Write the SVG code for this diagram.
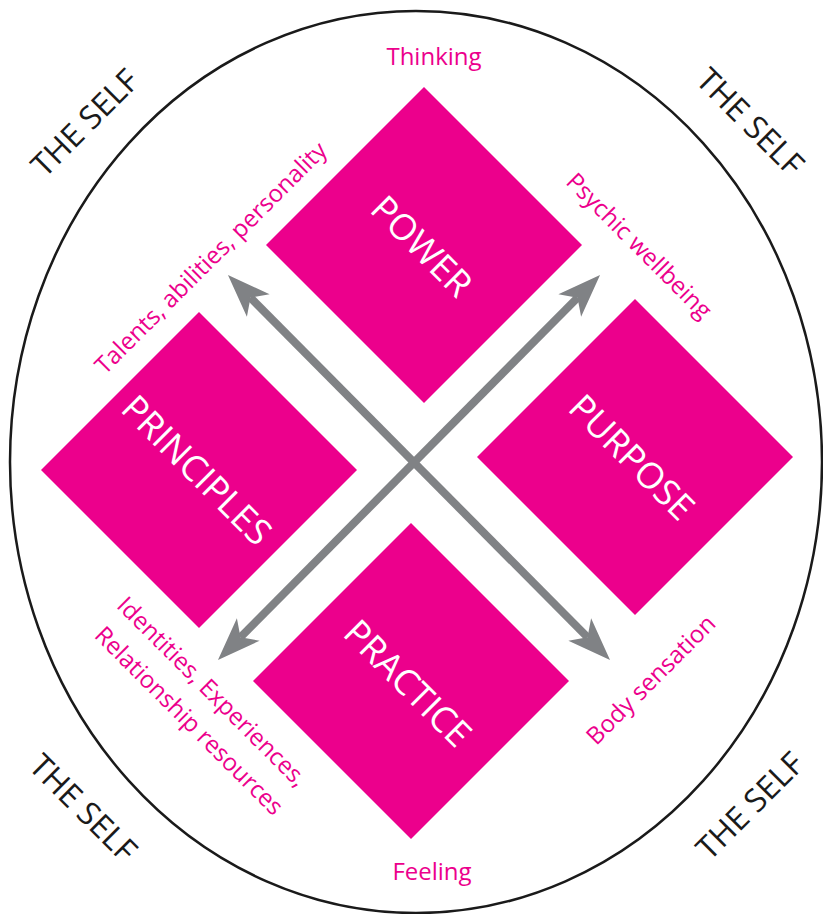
<svg xmlns="http://www.w3.org/2000/svg" width="823" height="914" viewBox="0 0 823 914">
<style>
.d{fill:#EC008C}
.big{font-family:"Open Sans","Noto Sans",sans-serif;font-size:36px;fill:#fff;text-anchor:middle}
.lab{font-family:"Open Sans","Noto Sans",sans-serif;font-size:24px;fill:#EC008C;text-anchor:middle}
.self{font-family:"Open Sans","Noto Sans",sans-serif;font-size:32px;fill:#1a1a1a;text-anchor:middle}
.ar{stroke:#808285;stroke-width:8;fill:none;marker-start:url(#h);marker-end:url(#h)}
</style>
<defs>
<marker id="h" markerUnits="userSpaceOnUse" viewBox="-12 -18 46 36" refX="0" refY="0" markerWidth="46" markerHeight="36" orient="auto-start-reverse">
<path d="M32,0 L-11,-16 L0,0 L-11,16 Z" fill="#808285"/>
</marker>
</defs>
<rect width="823" height="914" fill="#fff"/>
<ellipse id="self" cx="416" cy="462" rx="406" ry="451" fill="none" stroke="#1a1a1a" stroke-width="2.5"/>
<g id="power"><path class="d" d="M424,87 L582,245 L424,403 L266,245 Z"/><text class="big" transform="translate(422,246) rotate(45)" y="13">POWER</text></g>
<g id="principles"><path class="d" d="M199,312 L357,470 L199,628 L41,470 Z"/><text class="big" transform="translate(197,470) rotate(45)" y="13">PRINCIPLES</text></g>
<g id="purpose"><path class="d" d="M635,299 L793,457 L635,615 L477,457 Z"/><text class="big" transform="translate(632,457) rotate(45)" y="13">PURPOSE</text></g>
<g id="practice"><path class="d" d="M411,523 L569,681 L411,839 L253,681 Z"/><text class="big" transform="translate(408,683) rotate(45)" y="13">PRACTICE</text></g>
<g id="connectors">
<line class="ar" x1="250.5" y1="297.7" x2="587.5" y2="637.3"/>
<line class="ar" x1="577.5" y1="297.7" x2="240.5" y2="637.3"/>
</g>
<g id="labels">
<text class="lab" x="434" y="65">Thinking</text>
<text class="lab" x="432" y="880">Feeling</text>
<text class="lab" transform="translate(211,258) rotate(-45)" y="8">Talents, abilities, personality</text>
<text class="lab" transform="translate(639,246) rotate(45)" y="8">Psychic wellbeing</text>
<text class="lab" transform="translate(212,692) rotate(45)" y="8">Identities, Experiences,</text>
<text class="lab" transform="translate(189,721) rotate(45)" y="8">Relationship resources</text>
<text class="lab" transform="translate(651,680) rotate(-45)" y="8">Body sensation</text>
</g>
<g id="selves">
<text class="self" transform="translate(85,123) rotate(-45)" y="11">THE SELF</text>
<text class="self" transform="translate(750,122) rotate(45)" y="11">THE SELF</text>
<text class="self" transform="translate(83,808) rotate(45)" y="11">THE SELF</text>
<text class="self" transform="translate(750,806) rotate(-45)" y="11">THE SELF</text>
</g>
</svg>
